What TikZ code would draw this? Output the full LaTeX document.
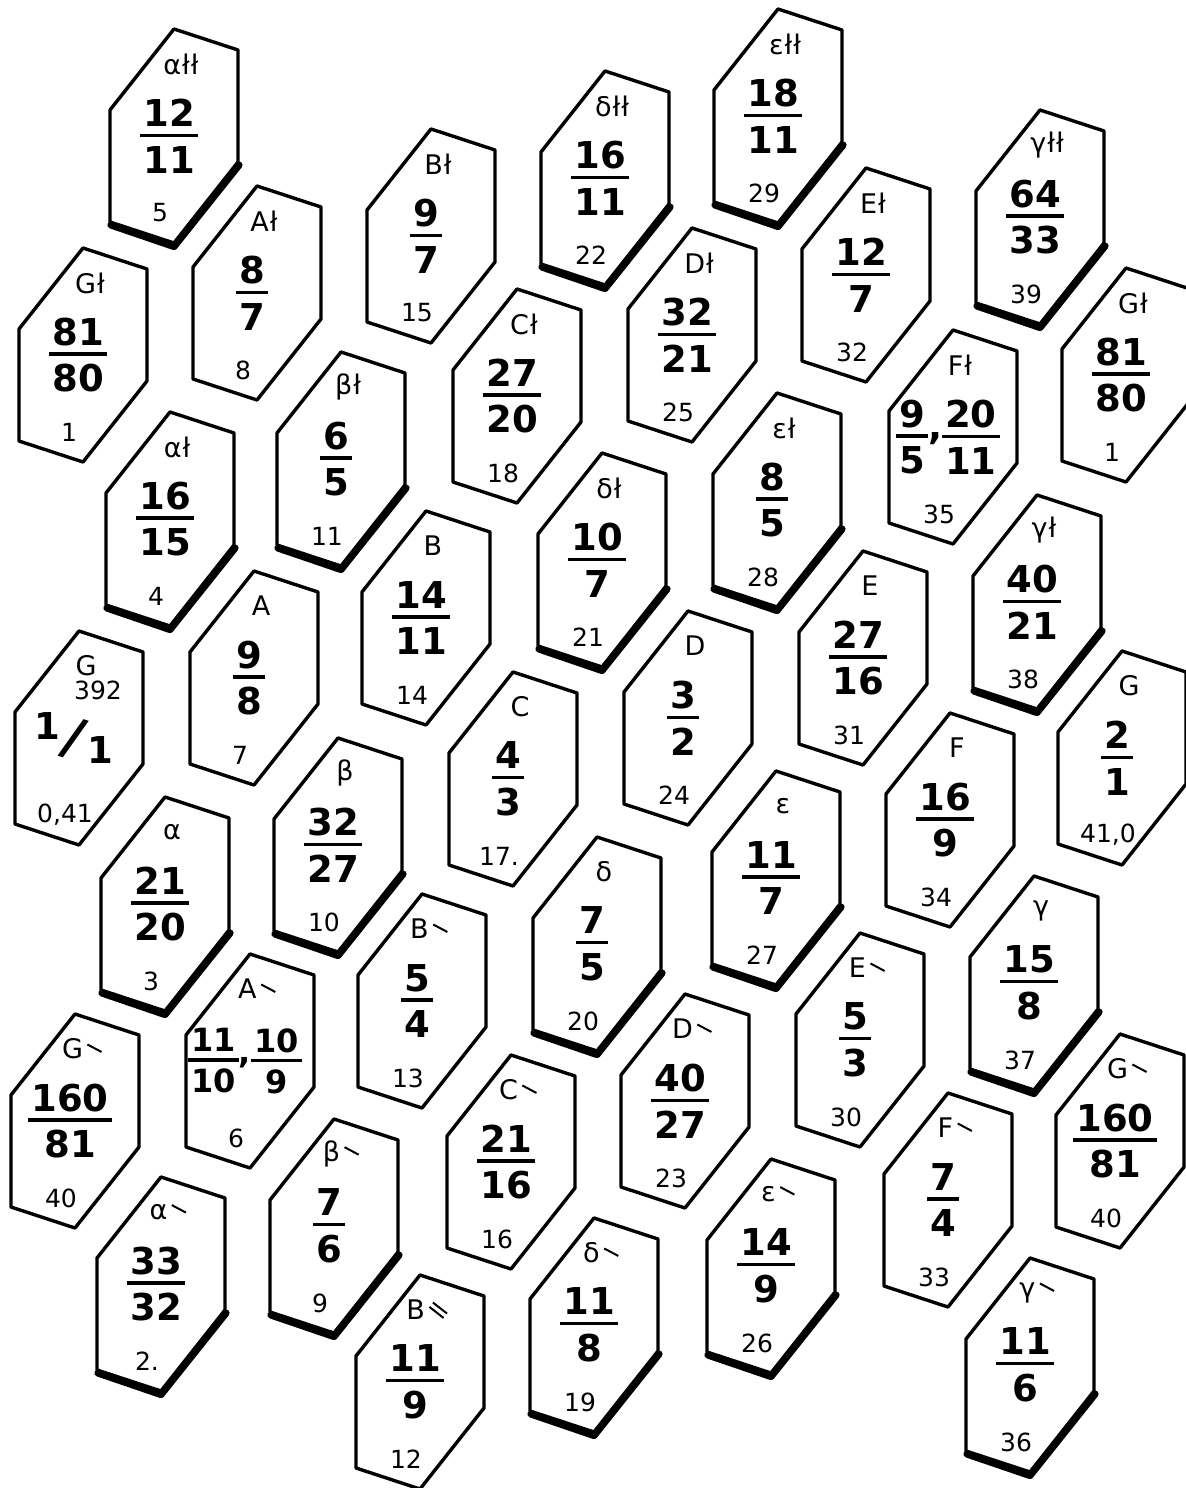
\documentclass[tikz,border=0pt]{standalone}
\usepackage{fontspec}
\usepackage{graphicx}
\setmainfont{DejaVu Sans}
\newcommand\hmk{\kern0.5pt ł}
\newcommand\gmk{\kern2pt\raisebox{0.5em}{\rotatebox{-28}{\rule{8pt}{1pt}}}}
\newcommand\ggmk{\kern2pt\raisebox{0.45em}{\rotatebox{-38}{\vbox{\hrule width 9pt height 1pt\kern1.8pt\hrule width 9pt height 1pt}}}}
\newcommand\fr[2]{{\renewcommand\arraystretch{0}\setlength\arrayrulewidth{1.6pt}%
 \begin{tabular}{@{\kern1.5pt}c@{\kern1.5pt}}\rule[-0.2em]{0pt}{0.76em}#1\\\hline\rule{0pt}{0.98em}#2\end{tabular}}}
\newcommand\oneone{\raisebox{6pt}{1}\kern-1pt{\fontsize{26}{26}\selectfont\rotatebox{-18}{/}}\kern-1pt\raisebox{-6pt}{1}}
\tikzset{
 keyline/.style={draw=black,line width=1.7pt,line join=round},
 shadowline/.style={draw=black,line width=3.6pt,line join=round,line cap=round},
 toplbl/.style={inner sep=0pt,font=\fontsize{13.5}{15}\selectfont},
 numlbl/.style={inner sep=0pt,font=\fontsize{12.5}{14}\selectfont},
 fraclbl/.style={inner sep=0pt,font=\fontsize{18.5}{20}\selectfont\bfseries}
}
\newcommand\hexkey[7]{%
 \begin{scope}[shift={(#2,#3)}]
  \ifx#7y\draw[shadowline] (-63,89) -- (0,110.5) -- (65,29);\fi
  \draw[keyline] (0,-107) -- (64,-86) -- (64,26) -- (0,107) -- (-64,86) -- (-64,-26) -- cycle;
  \node[toplbl] (#1t) at (7,-72) {#4};
  \node[fraclbl] (#1) at (-5,0) {#5};
  \node[numlbl] (#1n) at (-14,77) {#6};
 \end{scope}}
\begin{document}
\begin{tikzpicture}[x=0.5pt,y=-0.5pt]
\fill[white] (0,0) rectangle (1186,1488);
\useasboundingbox (0,0) rectangle (1186,1488);
\hexkey{k5}{174}{136}{α\hmk\hmk}{\fr{12}{11}}{5}{y}
\hexkey{k1a}{83}{355}{G\hmk}{\fr{81}{80}}{1}{n}
\hexkey{k8}{257}{293}{A\hmk}{\fr{8}{7}}{8}{n}
\hexkey{k15}{431}{236}{B\hmk}{\fr{9}{7}}{15}{n}
\hexkey{k22}{605}{178}{δ\hmk\hmk}{\fr{16}{11}}{22}{y}
\hexkey{k29}{778}{116}{ε\hmk\hmk}{\fr{18}{11}}{29}{y}
\hexkey{k32}{866}{275}{E\hmk}{\fr{12}{7}}{32}{n}
\hexkey{k39}{1040}{217}{γ\hmk\hmk}{\fr{64}{33}}{39}{y}
\hexkey{k1b}{1126}{375}{G\hmk}{\fr{81}{80}}{1}{n}
\hexkey{k35}{953}{437}{F\hmk}{\fr{9}{5}\raisebox{3pt}{,}\fr{20}{11}}{35}{n}
\hexkey{k25}{692}{335}{D\hmk}{\fr{32}{21}}{25}{n}
\hexkey{k18}{517}{396}{C\hmk}{\fr{27}{20}}{18}{n}
\hexkey{k11}{341}{459}{β\hmk}{\fr{6}{5}}{11}{y}
\hexkey{k4}{170}{519}{α\hmk}{\fr{16}{15}}{4}{y}
\hexkey{k0}{79}{738}{G}{\oneone}{0,41}{n}
\node[numlbl] (k0h) at (98,690) {392};
\hexkey{k7}{254}{678}{A}{\fr{9}{8}}{7}{n}
\hexkey{k14}{426}{618}{B}{\fr{14}{11}}{14}{n}
\hexkey{k21}{602}{560}{δ\hmk}{\fr{10}{7}}{21}{y}
\hexkey{k28}{777}{500}{ε\hmk}{\fr{8}{5}}{28}{y}
\hexkey{k31}{863}{658}{E}{\fr{27}{16}}{31}{n}
\hexkey{k38}{1037}{602}{γ\hmk}{\fr{40}{21}}{38}{y}
\hexkey{k41}{1122}{758}{G}{\fr{2}{1}}{41,0}{n}
\hexkey{k34}{950}{820}{F}{\fr{16}{9}}{34}{n}
\hexkey{k24}{688}{718}{D}{\fr{3}{2}}{24}{n}
\hexkey{k17}{513}{779}{C}{\fr{4}{3}}{17.}{n}
\hexkey{k10}{338}{845}{β}{\fr{32}{27}}{10}{y}
\hexkey{k3}{165}{904}{α}{\fr{21}{20}}{3}{y}
\hexkey{k6}{250}{1061}{A\gmk}{{\fontsize{16}{18}\selectfont\fr{11}{10}\raisebox{3pt}{,}\fr{10}{9}}}{6}{n}
\hexkey{k40a}{75}{1121}{G\gmk}{\fr{160}{81}}{40}{n}
\hexkey{k2}{161}{1284}{α\gmk}{\fr{33}{32}}{2.}{y}
\hexkey{k9}{334}{1226}{β\gmk}{\fr{7}{6}}{9}{y}
\hexkey{k13}{422}{1001}{B\gmk}{\fr{5}{4}}{13}{n}
\hexkey{k20}{597}{944}{δ}{\fr{7}{5}}{20}{y}
\hexkey{k27}{776}{878}{ε}{\fr{11}{7}}{27}{y}
\hexkey{k16}{511}{1162}{C\gmk}{\fr{21}{16}}{16}{n}
\hexkey{k23}{685}{1101}{D\gmk}{\fr{40}{27}}{23}{n}
\hexkey{k19}{594}{1325}{δ\gmk}{\fr{11}{8}}{19}{y}
\hexkey{k12}{420}{1382}{B\ggmk}{\fr{11}{9}}{12}{n}
\hexkey{k26}{771}{1266}{ε\gmk}{\fr{14}{9}}{26}{y}
\hexkey{k30}{860}{1040}{E\gmk}{\fr{5}{3}}{30}{n}
\hexkey{k37}{1034}{983}{γ}{\fr{15}{8}}{37}{y}
\hexkey{k33}{948}{1200}{F\gmk}{\fr{7}{4}}{33}{n}
\hexkey{k40b}{1120}{1141}{G\gmk}{\fr{160}{81}}{40}{n}
\hexkey{k36}{1030}{1365}{γ\gmk}{\fr{11}{6}}{36}{y}
\end{tikzpicture}
\end{document}
